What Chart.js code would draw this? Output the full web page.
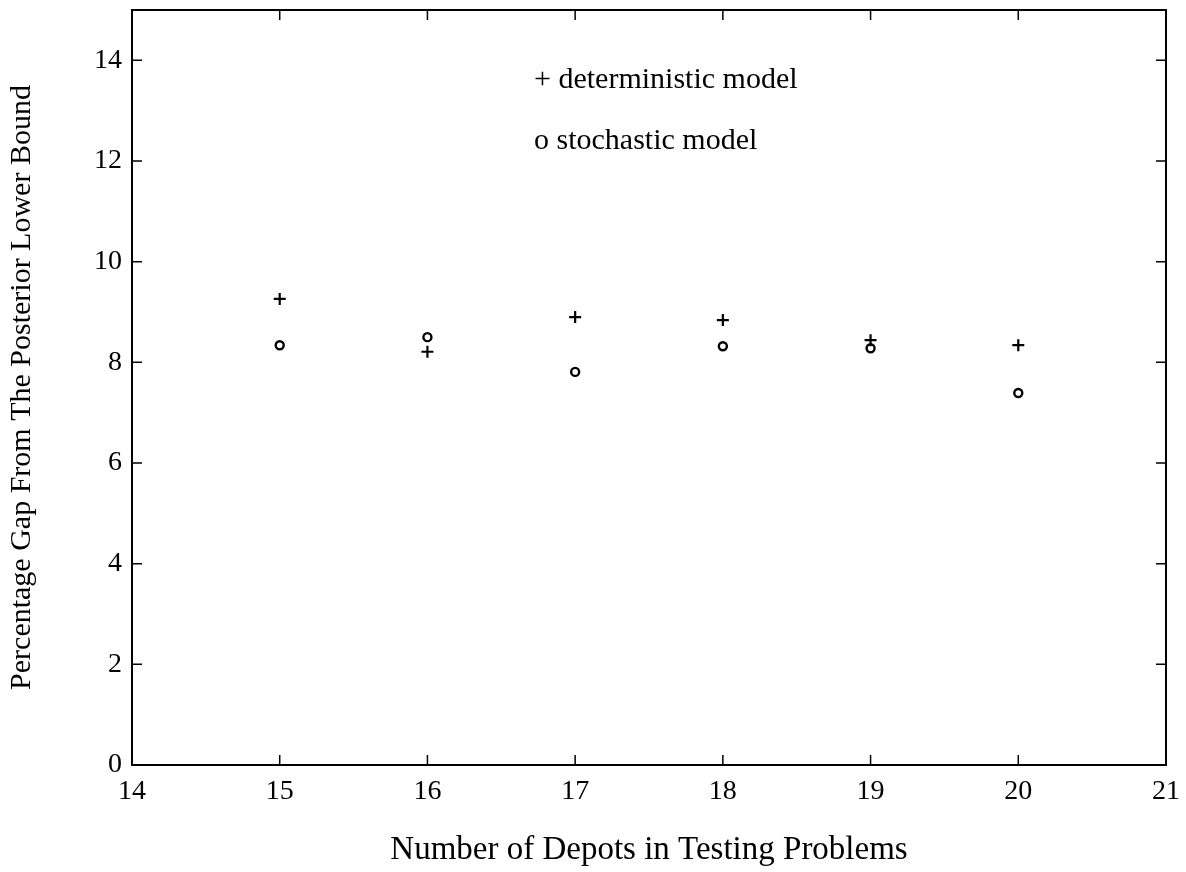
<!DOCTYPE html>
<html>
<head>
<meta charset="utf-8">
<script src="https://cdn.jsdelivr.net/npm/chart.js@4.4.1/dist/chart.umd.min.js"></script>
<style>
  html, body { margin: 0; padding: 0; background: #fff; }
  #wrap { width: 1186px; height: 872px; }
</style>
</head>
<body>
<div id="wrap"><canvas id="gapChart"></canvas></div>
<script>
// data
const depots = [15, 16, 17, 18, 19, 20];
const deterministicGap = [9.26, 8.21, 8.90, 8.84, 8.44, 8.34];
const stochasticGap = [8.34, 8.50, 7.81, 8.32, 8.28, 7.39];
const yTicks = [0, 2, 4, 6, 8, 10, 12, 14];
const xTicks = [14, 15, 16, 17, 18, 19, 20, 21];

const serif = '"Liberation Serif", "DejaVu Serif", serif';

function toPoints(xs, ys) {
    return xs.map((x, i) => ({ x: x, y: ys[i] }));
}

// box round the plot, with inward tick marks on all four sides
const boxTicks = {
    id: 'boxTicks',
    afterDraw(chart) {
        const { ctx, chartArea: a, scales } = chart;
        ctx.save();
        ctx.strokeStyle = '#000';
        ctx.lineWidth = 2;
        ctx.strokeRect(a.left, a.top, a.right - a.left, a.bottom - a.top);
        ctx.lineWidth = 1.5;
        const len = 10;
        ctx.beginPath();
        scales.x.ticks.forEach(t => {
            const px = scales.x.getPixelForValue(t.value);
            ctx.moveTo(px, a.bottom); ctx.lineTo(px, a.bottom - len);
            ctx.moveTo(px, a.top); ctx.lineTo(px, a.top + len);
        });
        scales.y.ticks.forEach(t => {
            const py = scales.y.getPixelForValue(t.value);
            ctx.moveTo(a.left, py); ctx.lineTo(a.left + len, py);
            ctx.moveTo(a.right, py); ctx.lineTo(a.right - len, py);
        });
        ctx.stroke();
        ctx.restore();
    }
};

// text legend inside the plot, like the original
const textLegend = {
    id: 'textLegend',
    afterDraw(chart) {
        const { ctx } = chart;
        const marks = ['+', 'o'];
        ctx.save();
        ctx.fillStyle = '#000';
        ctx.font = '30px ' + serif;
        ctx.textBaseline = 'middle';
        chart.data.datasets.forEach((ds, i) => {
            ctx.fillText(marks[i] + ' ' + ds.label, 534, 80 + i * 61);
        });
        ctx.restore();
    }
};

const ctx = document.getElementById('gapChart').getContext('2d');
const gapChart = new Chart(ctx, {
    type: 'scatter',
    data: {
        datasets: [{
            label: 'deterministic model',
            data: toPoints(depots, deterministicGap),
            pointStyle: 'cross',
            pointRadius: 6,
            pointBorderWidth: 2.2,
            borderColor: '#000',
            backgroundColor: '#000'
        }, {
            label: 'stochastic model',
            data: toPoints(depots, stochasticGap),
            pointStyle: 'circle',
            pointRadius: 4,
            pointBorderWidth: 2.4,
            borderColor: '#000',
            backgroundColor: 'rgba(0,0,0,0)'
        }]
    },
    options: {
        responsive: true,
        maintainAspectRatio: false,
        animation: false,
        layout: { autoPadding: false, padding: { top: 10, right: 20, left: 0, bottom: 0 } },
        plugins: {
            legend: { display: false },
            tooltip: { enabled: false }
        },
        scales: {
            x: {
                type: 'linear',
                min: 14,
                max: 21,
                afterBuildTicks: s => { s.ticks = xTicks.map(v => ({ value: v })); },
                afterFit: s => { s.height = 107; s.paddingLeft = 0; s.paddingRight = 0; },
                grid: { display: false, drawTicks: false },
                border: { display: false },
                ticks: {
                    color: '#000',
                    padding: 10,
                    font: { family: serif, size: 28 }
                },
                title: {
                    display: true,
                    text: 'Number of Depots in Testing Problems',
                    color: '#000',
                    font: { family: serif, size: 33 },
                    padding: { top: 0, bottom: 2 }
                }
            },
            y: {
                type: 'linear',
                min: 0,
                max: 15,
                afterBuildTicks: s => { s.ticks = yTicks.map(v => ({ value: v })); },
                afterFit: s => { s.width = 132; s.paddingTop = 0; s.paddingBottom = 0; },
                grid: { display: false, drawTicks: false },
                border: { display: false },
                ticks: {
                    color: '#000',
                    padding: 10,
                    font: { family: serif, size: 28 }
                },
                title: {
                    display: true,
                    text: 'Percentage Gap From The Posterior Lower Bound',
                    color: '#000',
                    font: { family: serif, size: 30 },
                    padding: { top: 4, bottom: 0 }
                }
            }
        }
    },
    plugins: [boxTicks, textLegend]
});
</script>
</body>
</html>
